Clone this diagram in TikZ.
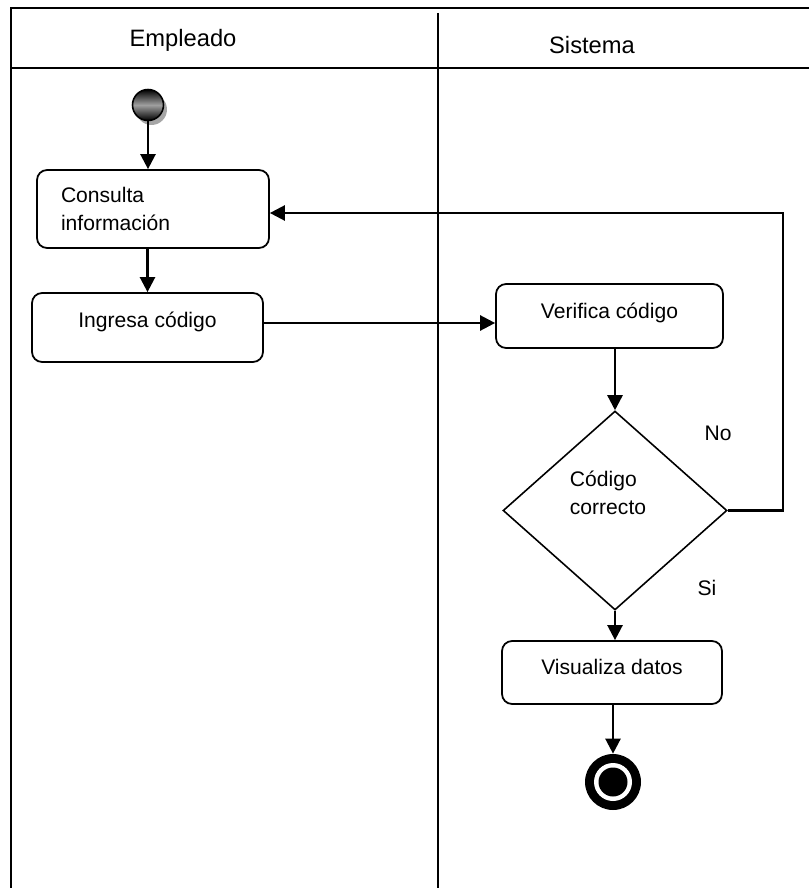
\documentclass[tikz,border=0pt]{standalone}
\usepackage{fontspec}
\setmainfont{Liberation Sans}
\usetikzlibrary{shapes.geometric,arrows.meta,shadows,positioning}

\begin{document}
\begin{tikzpicture}[
    x=0.02cm, y=-0.02cm,
    act/.style={rectangle, rounded corners=0.2cm, draw=black, line width=1pt, fill=white, font=\fontsize{12}{16}\selectfont, align=center},
    decision/.style={diamond, draw=black, line width=0.9pt, minimum width=4.48cm, minimum height=3.98cm, inner sep=0pt},
    startnode/.style={circle, draw=black, line width=0.9pt, minimum size=0.62cm, inner sep=0pt, top color=black, bottom color=black, middle color=gray!75, drop shadow={shadow xshift=0.07cm, shadow yshift=-0.09cm, fill=gray!70, opacity=1}},
    endnode/.style={circle, fill=black, minimum size=1.12cm, inner sep=0pt, path picture={\fill[white] (path picture bounding box.center) circle (0.38cm); \fill[black] (path picture bounding box.center) circle (0.29cm);}},
    arrow/.style={-{Triangle[length=0.3cm,width=0.3cm]}, line width=1.4pt},
    lane/.style={line width=0.9pt},
    txt/.style={font=\fontsize{12}{16}\selectfont},
    head/.style={font=\fontsize{13.5}{16}\selectfont}
]
\useasboundingbox (0,0) rectangle (809,888);

% === LANES ===
\draw[lane] (11,888) -- (11,8) -- (809,8);
\draw[lane] (11,68) -- (809,68);
\draw[lane] (438,13) -- (438,888);
\node[head] (empleado) at (183,40) {Empleado};
\node[head] (sistema) at (592,45) {Sistema};

% === EMPLEADO ===
\node[startnode] (ini) at (148,105) {};
\node[act, minimum width=4.64cm, minimum height=1.56cm, text width=3.68cm, inner xsep=0.48cm, align=left] (consulta) at (153,209) {Consulta\\información};
\node[act, minimum width=4.62cm, minimum height=1.38cm, text depth=0.33cm] (ingresa) at (147.5,327.5) {Ingresa código};

% === SISTEMA ===
\node[act, minimum width=4.54cm, minimum height=1.28cm, text depth=0.21cm] (verifica) at (609.5,316) {Verifica código};
\node[decision] (dec) at (615,510.5) {};
\node[txt, align=left] (dectxt) at (608,493) {Código\\correcto};
\node[txt] (no) at (718,433) {No};
\node[txt] (si) at (707,588) {Si};
\node[act, minimum width=4.4cm, minimum height=1.26cm, text depth=0.21cm] (visualiza) at (612,672.5) {Visualiza datos};
\node[endnode] (fin) at (613,782) {};

% flow
\draw[arrow] (ini.south) -- (ini.south |- consulta.north);
\draw[arrow] (ingresa.north |- consulta.south) -- (ingresa.north);
\draw[arrow] ([yshift=0.09cm]ingresa.east) -- ([yshift=0.09cm]ingresa.east -| verifica.west);
\draw[arrow] (dec.north |- verifica.south) -- (dec.north);
\draw[arrow] (dec.south) -- (dec.south |- visualiza.north);
\draw[arrow] (fin.north |- visualiza.south) -- (fin.north);

% loop back on No
\coordinate (loopa) at (783,510.5);
\coordinate (loopb) at (783,213);
\draw[arrow] (dec.east) -- (loopa) -- (loopb) -- (loopb -| consulta.east);

\end{tikzpicture}
\end{document}
